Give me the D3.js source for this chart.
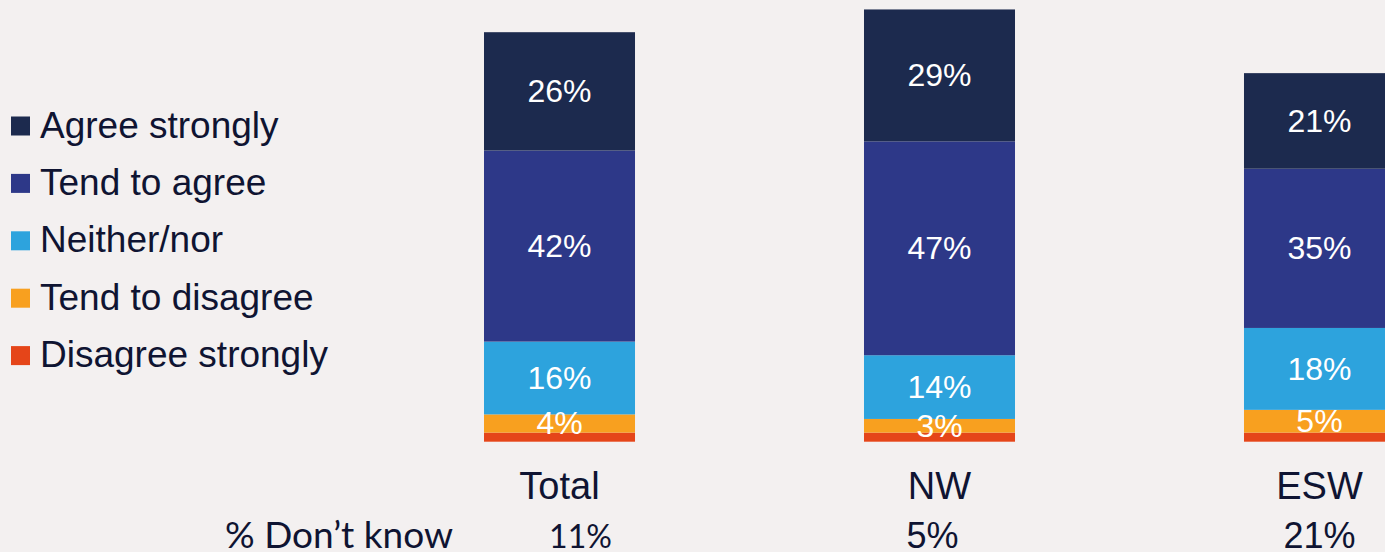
<!DOCTYPE html>
<html>
<head>
<meta charset="utf-8">
<script src="https://cdn.jsdelivr.net/npm/d3@7"></script>
<style>
  html, body { margin: 0; padding: 0; background: #f3f0f0; }
  svg { display: block; }
</style>
</head>
<body>
<svg id="chart" width="1385" height="552"></svg>
<script>
// Survey response shares (%) per group
const categories = ["Total", "NW", "ESW"];
const seriesNames = ["Disagree strongly", "Tend to disagree", "Neither/nor", "Tend to agree", "Agree strongly"];
const disagreeStrongly = [2, 2, 2];
const tendToDisagree = [4, 3, 5];
const neitherNor = [16, 14, 18];
const tendToAgree = [42, 47, 35];
const agreeStrongly = [26, 29, 21];
const dontKnow = ["11%", "5%", "21%"];
const dontKnowTitle = "% Don\u2019t know";
const legendOrder = ["Agree strongly", "Tend to agree", "Neither/nor", "Tend to disagree", "Disagree strongly"];
// Segments that carry a printed value
const labelled = ["Tend to disagree", "Neither/nor", "Tend to agree", "Agree strongly"];

const colors = {
  "Agree strongly": "#1c2a4e",
  "Tend to agree": "#2d3888",
  "Neither/nor": "#2da3dd",
  "Tend to disagree": "#f8a01f",
  "Disagree strongly": "#e54519"
};
const textColor = "#0f1432";

const rows = categories.map((c, i) => ({
  category: c,
  "Disagree strongly": disagreeStrongly[i],
  "Tend to disagree": tendToDisagree[i],
  "Neither/nor": neitherNor[i],
  "Tend to agree": tendToAgree[i],
  "Agree strongly": agreeStrongly[i]
}));

const svg = d3.select("#chart");

const x = d3.scaleBand()
  .domain(categories)
  .range([294, 1585])
  .paddingInner(0.6026)
  .paddingOuter(0.5);

const baseline = 441.7;
const y = d3.scaleLinear().domain([0, 100]).range([baseline, baseline - 455]);

const stacked = d3.stack().keys(seriesNames)(rows);

const layers = svg.append("g").selectAll("g")
  .data(stacked)
  .join("g")
  .attr("fill", d => colors[d.key]);

layers.selectAll("rect")
  .data(d => d.map(p => ({ key: d.key, p })))
  .join("rect")
  .attr("x", d => x(d.p.data.category))
  .attr("width", x.bandwidth())
  .attr("y", d => y(d.p[1]))
  .attr("height", d => y(d.p[0]) - y(d.p[1]));

// Value labels inside segments
const labelLayers = stacked.filter(s => labelled.includes(s.key));
svg.append("g").selectAll("g")
  .data(labelLayers)
  .join("g")
  .selectAll("text")
  .data(d => d.map(p => p))
  .join("text")
  .attr("x", p => x(p.data.category) + x.bandwidth() / 2)
  .attr("y", p => (y(p[0]) + y(p[1])) / 2)
  .attr("dy", "0.34em")
  .attr("text-anchor", "middle")
  .attr("fill", "#ffffff")
  .attr("font-family", "'Liberation Sans', Arial, sans-serif")
  .attr("font-size", 32)
  .text(p => (p[1] - p[0]) + "%");

// Category labels
svg.append("g").selectAll("text")
  .data(categories)
  .join("text")
  .attr("x", c => x(c) + x.bandwidth() / 2)
  .attr("y", 499)
  .attr("text-anchor", "middle")
  .attr("fill", textColor)
  .attr("font-family", "'Liberation Sans', Arial, sans-serif")
  .attr("font-size", 38)
  .text(c => c);

// Don't know row
svg.append("text")
  .attr("x", 453)
  .attr("y", 548)
  .attr("text-anchor", "end")
  .attr("fill", textColor)
  .attr("font-family", "Lato, sans-serif")
  .attr("font-size", 37)
  .text(dontKnowTitle);

const dkOffset = [21, -7, 0];
const dkFont = ["Lato, sans-serif", "'Liberation Sans', Arial, sans-serif", "'Liberation Sans', Arial, sans-serif"];
const dkSize = [32, 36, 36];
svg.append("g").selectAll("text")
  .data(dontKnow)
  .join("text")
  .attr("x", (d, i) => x(categories[i]) + x.bandwidth() / 2 + dkOffset[i])
  .attr("y", 548)
  .attr("text-anchor", "middle")
  .attr("fill", textColor)
  .attr("font-family", (d, i) => dkFont[i])
  .attr("font-size", (d, i) => dkSize[i])
  .text(d => d);

// Legend
const legend = svg.append("g").selectAll("g")
  .data(legendOrder)
  .join("g")
  .attr("transform", (d, i) => `translate(11, ${137.5 + i * 57.4})`);

legend.append("rect")
  .attr("x", 0)
  .attr("y", -21)
  .attr("width", 19)
  .attr("height", 19)
  .attr("fill", d => colors[d]);

legend.append("text")
  .attr("x", 29)
  .attr("y", 0)
  .attr("fill", textColor)
  .attr("font-family", "'Liberation Sans', Arial, sans-serif")
  .attr("font-size", 37)
  .text(d => d);
</script>
</body>
</html>
